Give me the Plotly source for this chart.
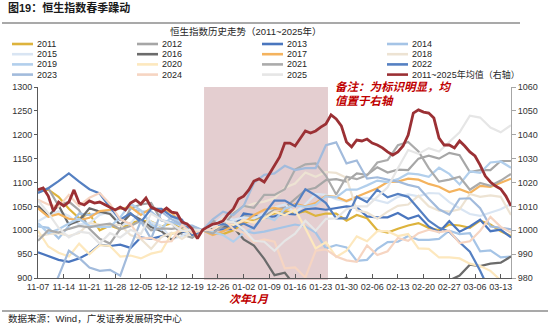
import plotly.graph_objects as go

# ---------------- data ----------------
x_labels = ["11-07", "11-14", "11-21", "11-28", "12-05", "12-12", "12-19", "12-26",
            "01-02", "01-09", "01-16", "01-23", "01-30", "02-06", "02-13", "02-20",
            "02-27", "03-06", "03-13"]
days_per_label = 5
n_days = 93          # trading-day positions 0..92
year_step = 2        # yearly series are read every 2 trading days

years = ["2011", "2012", "2013", "2014", "2015", "2016", "2017", "2018",
         "2019", "2020", "2021", "2022", "2023", "2024", "2025"]
mean_name = "2011~2025年均值（右轴）"

y2011 = [1080, 1085, 1070, 1045, 1025, 1035, 1000, 1010, 1002, 1015, 1020, 1018, 1008, 1015, 1002, 990,
         1000,
         995, 992, 1000, 1015, 1022, 1030, 1035, 1040, 1035, 1040, 1030, 1035, 1035, 1020, 1032,
         1025, 1000, 995, 1003, 1010, 1015, 1005, 1000, 1012, 1010, 1005, 1020, 1012, 998, 988]
y2012 = [1081, 1088, 1051, 1060, 1042, 1003, 982, 972, 1003, 1046, 1054, 1057, 1021, 1014, 991, 984,
         1000,
         1020, 1012, 1011, 1031, 1025, 1031, 1044, 1047, 1066, 1084, 1089, 1105, 1107, 1102, 1119,
         1116, 1132, 1121, 1127, 1126, 1150, 1156, 1150, 1162, 1157, 1122, 1126, 1126, 1145, 1145]
y2013 = [954, 946, 938, 934, 941, 952, 970, 967, 970, 963, 985, 982, 988, 993, 996, 1001,
         1000,
         1001, 1003, 1003, 1035, 1032, 1027, 1029, 1035, 1033, 1044, 1046, 1043, 1047, 1050, 1048,
         1029, 1027, 1027, 1036, 1024, 1031, 1008, 996, 1019, 997, 1008, 1022, 998, 1001, 985]
y2014 = [1008, 1005, 983, 1008, 1035, 1032, 1037, 1041, 1045, 1046, 1039, 1039, 1021, 1017, 1010, 1001,
         1000,
         1003, 1017, 1020, 999, 994, 997, 1002, 1007, 1012, 1008, 995, 962, 969, 964, 936,
         938, 961, 975, 976, 988, 980, 980, 982, 999, 992, 994, 956, 958, 943, 945]
y2015 = [1019, 1031, 1040, 1030, 1012, 1015, 1032, 1038, 1012, 1014, 1039, 1017, 1009, 981, 988, 1001,
         1000,
         1010, 1029, 1022, 1027, 1025, 1035, 1048, 1054, 1037, 1054, 1076, 1074, 1065, 1060, 1068,
         1068, 1062, 1057, 1070, 1075, 1071, 1078, 1077, 1059, 1046, 1034, 1030, 1037, 1044, 1055]
y2016 = [1051, 1030, 1052, 1012, 1020, 1046, 1039, 1034, 1011, 1034, 1022, 1007, 998, 980, 998, 1000,
         1000,
         1004, 1008, 1006, 981, 968, 940, 906, 911, 884, 868, 877, 867, 883, 901, 873,
         887, 853, 870, 879, 887, 893, 868, 879, 895, 905, 928, 925, 930, 932, 945]
y2017 = [1046, 1028, 1034, 1024, 1021, 1026, 1040, 1042, 1045, 1049, 1032, 1046, 1044, 1037, 1012, 1002,
         1000,
         990, 998, 1009, 1015, 1032, 1043, 1047, 1042, 1055, 1050, 1057, 1072, 1070, 1061, 1070,
         1079, 1088, 1101, 1102, 1108, 1106, 1097, 1091, 1080, 1086, 1078, 1093, 1091, 1100, 1108]
y2018 = [987, 992, 994, 988, 994, 1015, 1012, 1011, 1011, 990, 982, 961, 986, 995, 982, 996,
         1000,
         1008, 1019, 1041, 1049, 1056, 1060, 1067, 1089, 1098, 1121, 1112, 1122, 1120, 1110, 1042,
         1037, 1024, 1039, 1051, 1054, 1072, 1050, 1041, 1039, 1044, 1076, 1070, 1073, 1070, 1032]
y2019 = [1015, 994, 1002, 1014, 1024, 1009, 1007, 1007, 1027, 1056, 1042, 1012, 1001, 1030, 1013, 1004,
         1000,
         996, 990, 976, 995, 1005, 1030, 1021, 1045, 1052, 1049, 1053, 1071, 1069, 1085, 1085,
         1094, 1104, 1101, 1107, 1119, 1117, 1112, 1131, 1118, 1096, 1123, 1120, 1142, 1144, 1131]
y2020 = [999, 966, 953, 945, 972, 950, 969, 967, 945, 947, 941, 951, 956, 993, 999, 997,
         1000,
         1001, 1013, 1011, 1021, 1016, 1025, 1039, 1032, 1043, 1004, 962, 975, 944, 957, 987,
         977, 998, 998, 988, 992, 962, 961, 943, 943, 941, 930, 925, 915, 895, 870]
y2021 = [978, 1000, 995, 1003, 1009, 1006, 1011, 1014, 1002, 1009, 1020, 1000, 1004, 1003, 1006, 1008,
         1000,
         993, 1010, 1035, 1051, 1047, 1074, 1074, 1086, 1127, 1138, 1140, 1114, 1075, 1112, 1107,
         1115, 1142, 1147, 1178, 1185, 1165, 1130, 1102, 1106, 1112, 1085, 1099, 1093, 1104, 1118]
y2022 = [1078, 1088, 1103, 1119, 1102, 1086, 1077, 1048, 1022, 1036, 1017, 1045, 1045, 1029, 1022, 990,
         1000,
         1010, 1013, 1006, 1014, 1004, 1034, 1062, 1062, 1050, 1086, 1073, 1057, 1025, 1025, 1070,
         1059, 1085, 1069, 1076, 1070, 1045, 1020, 1005, 997, 975, 955, 915, 870, 850, 870]
y2023 = [866, 854, 904, 957, 942, 922, 915, 917, 905, 965, 1019, 982, 1039, 1023, 1011, 1010,
         1000,
         1023, 1039, 1032, 1051, 1099, 1116, 1119, 1135, 1126, 1130, 1130, 1178, 1184, 1140, 1146,
         1108, 1111, 1106, 1102, 1095, 1090, 1066, 1044, 1033, 1066, 1067, 1046, 1008, 1005, 1002]
y2024 = [1064, 1054, 1049, 1074, 1051, 1068, 1078, 1055, 1023, 1013, 983, 984, 975, 977, 1011, 994,
         1000,
         1001, 1026, 1002, 995, 975, 981, 976, 920, 922, 901, 957, 960, 945, 937, 934,
         968, 948, 956, 984, 978, 994, 1001, 996, 999, 973, 977, 999, 1028, 1007, 995]
y2025 = [1063, 1036, 1005, 985, 997, 994, 972, 994, 985, 1001, 992, 1035, 1022, 1013, 999, 1002,
         1000,
         1008, 1019, 1017, 1002, 978, 976, 957, 978, 993, 1020, 999, 1024, 1025, 1044, 1050,
         1050, 1070, 1090, 1130, 1168, 1160, 1172, 1165, 1185, 1205, 1240, 1236, 1215, 1205, 1220]

mean_values = [1017.0, 1017.7, 1014.3, 1008.0, 1011.8, 1010.2, 1011.8, 1016.9, 1011.4, 1010.6,
               1012.3, 1011.4, 1011.8, 1010.6, 1009.7, 1008.5, 1009.7, 1008.5, 1011.4, 1012.7,
               1011.0, 1013.5, 1009.7, 1008.5, 1007.6, 1009.3, 1007.6, 1007.2, 1003.4, 1002.6,
               1000.5, 996.5, 1000.1, 1001.4, 1002.6, 1003.0, 1003.9, 1006.8, 1008.9, 1013.1,
               1014.3, 1016.9, 1020.6, 1021.5, 1020.2, 1023.6, 1027.3, 1030.7, 1036.5, 1036.5,
               1035.3, 1038.6, 1041.6, 1040.7, 1041.6, 1043.2, 1044.5, 1048.3, 1046.6, 1043.7,
               1037.0, 1034.9, 1037.8, 1037.4, 1038.2, 1036.5, 1035.7, 1034.5, 1032.8, 1031.5,
               1032.8, 1035.3, 1039.9, 1049.1, 1050.4, 1049.5, 1049.1, 1047.0, 1038.6, 1035.7,
               1035.7, 1034.5, 1037.4, 1035.3, 1032.8, 1031.1, 1027.3, 1022.7, 1020.2, 1018.5,
               1017.3, 1014.3, 1010.2]

year_series = [y2011, y2012, y2013, y2014, y2015, y2016, y2017, y2018,
               y2019, y2020, y2021, y2022, y2023, y2024, y2025]

# ---------------- styles ----------------
year_colors = ["#DDB33C", "#A6A6A6", "#4A76BE", "#A5C4E6", "#D9E5F3", "#6B6B6B", "#F4B35E", "#EDE3D3",
               "#B2CFEC", "#FDE8BE", "#ABABAB", "#5580C2", "#A2BBDC", "#F6D5C2", "#E6E6E6"]
mean_color = "#9B3034"
shade_start, shade_end = 32.3, 56.4   # January window (trading-day positions)

W, H = 550, 326
L, R, T, B = 38, 511, 87, 278   # plot area in pixels
FONT = "Liberation Sans, Noto Sans CJK SC, sans-serif"


def px(xp):
    return (xp - L) / (R - L)


def py(yp):
    return (B - yp) / (B - T)


fig = go.Figure()
year_x = list(range(0, n_days, year_step))
for name, color, vals in zip(years, year_colors, year_series):
    fig.add_trace(go.Scatter(x=year_x, y=vals, mode="lines", name=name,
                             line=dict(color=color, width=2.2), hoverinfo="skip"))
fig.add_trace(go.Scatter(x=list(range(n_days)), y=mean_values, mode="lines", name=mean_name,
                         yaxis="y2", line=dict(color=mean_color, width=2.8), hoverinfo="skip"))

shapes = [
    dict(type="rect", xref="x", yref="paper", x0=shade_start, x1=shade_end, y0=py(280), y1=1,
         fillcolor="#E4CED0", line=dict(width=0), layer="below"),
    dict(type="line", xref="paper", yref="paper", x0=px(2), x1=px(520), y0=py(23), y1=py(23),
         line=dict(color="#8C8C8C", width=1.5)),
    dict(type="line", xref="paper", yref="paper", x0=px(2), x1=px(548), y0=py(311), y1=py(311),
         line=dict(color="#8C8C8C", width=1.5)),
]

annotations = [
    dict(text="<b>图19：恒生指数春季躁动</b>", x=px(6), y=py(8), xref="paper", yref="paper",
         xanchor="left", yanchor="middle", showarrow=False,
         font=dict(size=11, color="#1A1A1A", family=FONT)),
    dict(text="恒生指数历史走势（2011~2025年）", x=px(246), y=py(31.5), xref="paper", yref="paper",
         xanchor="center", yanchor="middle", showarrow=False,
         font=dict(size=9.5, color="#262626", family=FONT)),
    dict(text="<b><i>备注：为标识明显，均</i></b>", x=px(333), y=py(87), xref="paper", yref="paper",
         xanchor="left", yanchor="middle", showarrow=False,
         font=dict(size=11.5, color="#C00000", family=FONT)),
    dict(text="<b><i>值置于右轴</i></b>", x=px(333), y=py(101), xref="paper", yref="paper",
         xanchor="left", yanchor="middle", showarrow=False,
         font=dict(size=11.5, color="#C00000", family=FONT)),
    dict(text="<b><i>次年1月</i></b>", x=px(249), y=py(299), xref="paper", yref="paper",
         xanchor="center", yanchor="middle", showarrow=False,
         font=dict(size=11, color="#C00000", family=FONT)),
    dict(text="数据来源：Wind，广发证券发展研究中心", x=px(6), y=py(318), xref="paper", yref="paper",
         xanchor="left", yanchor="middle", showarrow=False,
         font=dict(size=9.5, color="#262626", family=FONT)),
]

# custom 4-column legend
legend_names = years + [mean_name]
legend_colors = year_colors + [mean_color]
col_x = [12, 137, 262, 387]
row_y = [44, 54.2, 64.4, 74.6]
for k, (nm, col) in enumerate(zip(legend_names, legend_colors)):
    cx = col_x[k % 4]
    ry = row_y[k // 4]
    shapes.append(dict(type="line", xref="paper", yref="paper", x0=px(cx), x1=px(cx + 21),
                       y0=py(ry), y1=py(ry), line=dict(color=col, width=2.6)))
    annotations.append(dict(text=nm, x=px(cx + 23), y=py(ry), xref="paper", yref="paper",
                            xanchor="left", yanchor="middle", showarrow=False,
                            font=dict(size=9, color="#262626", family=FONT)))

tick_font = dict(size=9, color="#333333", family=FONT)
fig.update_layout(
    width=W, height=H, margin=dict(l=L, r=W - R, t=T, b=H - B),
    plot_bgcolor="white", paper_bgcolor="white", showlegend=False,
    font=dict(family=FONT),
    xaxis=dict(range=[0, n_days - 1], tickvals=[i * days_per_label for i in range(len(x_labels))],
               ticktext=x_labels, tickangle=0, ticks="inside", ticklen=4, tickcolor="#595959",
               showline=True, linecolor="#595959", linewidth=1, showgrid=False, zeroline=False,
               tickfont=tick_font),
    yaxis=dict(range=[900, 1300], dtick=50, ticks="outside", ticklen=3, tickcolor="#595959",
               showline=True, linecolor="#595959", linewidth=1, showgrid=False, zeroline=False,
               tickfont=tick_font),
    yaxis2=dict(overlaying="y", side="right", range=[980, 1060], dtick=10, ticks="outside",
                ticklen=4, tickcolor="#A6A6A6", showline=True, linecolor="#A6A6A6", linewidth=1,
                showgrid=False, zeroline=False, tickfont=tick_font),
    shapes=shapes, annotations=annotations,
)

fig.write_html("out.html")
